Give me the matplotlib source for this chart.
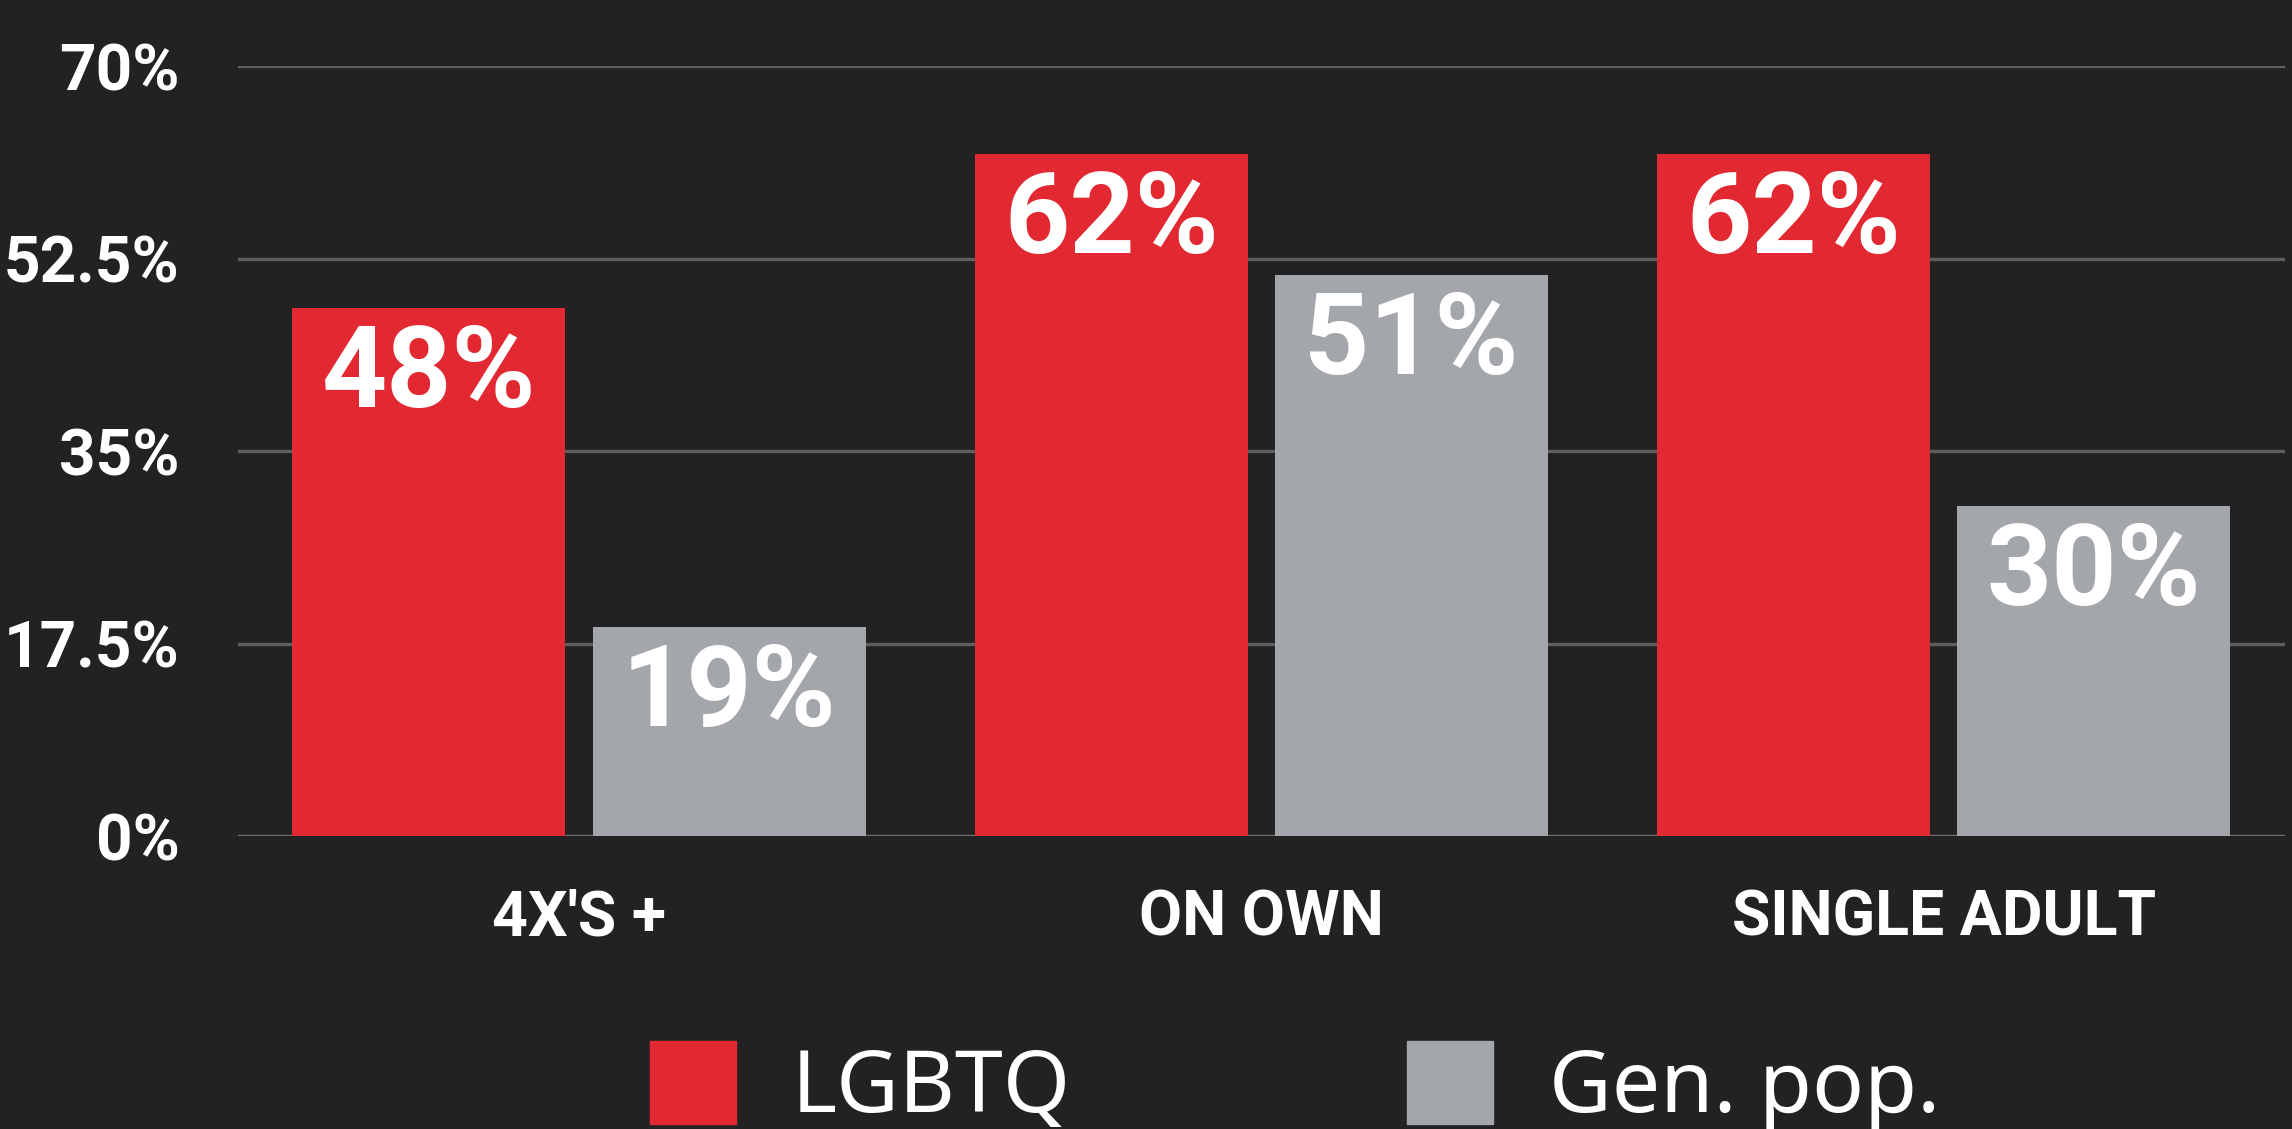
import numpy as np
import matplotlib.pyplot as plt
from matplotlib.patches import Patch

# data
categories = ["4X'S +", "ON OWN", "SINGLE ADULT"]
lgbtq = [48, 62, 62]
gen_pop = [19, 51, 30]
series_names = ["LGBTQ", "Gen. pop."]
y_ticks = [0, 17.5, 35, 52.5, 70]
y_tick_labels = ["0%", "17.5%", "35%", "52.5%", "70%"]

BG = "#222222"
RED = "#E22932"
GRAY = "#A3A6AA"
COND = ["Roboto", "DejaVu Sans"]  # no condensed face available, Roboto is the narrowest

fig = plt.figure(figsize=(22.92, 11.29), dpi=100, facecolor=BG)
ax = fig.add_axes([0.1038, 0.2595, 0.8931, 0.682])
ax.set_facecolor(BG)

x = np.arange(len(categories))
w = 0.4
off = 0.22

# gridlines first, bars on top
for t in y_ticks:
    ax.axhline(t, color="#5e5e5e" if t else "#707070", lw=2.4, zorder=1)

b1 = ax.bar(x - off, lgbtq, w, color=RED, zorder=2)
b2 = ax.bar(x + off, gen_pop, w, color=GRAY, zorder=2)

for bars, vals in [(b1, lgbtq), (b2, gen_pop)]:
    for rect, v in zip(bars, vals):
        ax.annotate(f"{v}%", (rect.get_x() + rect.get_width() / 2, v),
                    xytext=(0, -10), textcoords="offset points",
                    ha="center", va="top", color="white", fontsize=82,
                    fontweight="bold", family=COND, zorder=3)

ax.set_xlim(-0.5, 2.5)
ax.set_ylim(0, 70)
ax.set_yticks(y_ticks)
ax.set_yticklabels(y_tick_labels, family=COND, fontweight="bold",
                   fontsize=46, color="white")
ax.set_xticks(x)
ax.set_xticklabels(categories, family=COND, fontweight="bold",
                   fontsize=45, color="white")
ax.tick_params(axis="y", length=0, pad=42)
ax.tick_params(axis="x", length=0, pad=38)
for s in ax.spines.values():
    s.set_visible(False)

handles = [Patch(color=RED), Patch(color=GRAY)]
fig.legend(handles, series_names, loc="center", bbox_to_anchor=(0.565, 0.037),
           ncol=2, frameon=False, labelcolor="white",
           prop={"family": ["Noto Sans", "DejaVu Sans"], "size": 62},
           handlelength=1.0, handleheight=1.1, handletextpad=0.65,
           columnspacing=3.9)

fig.savefig("out.png", dpi=100, facecolor=BG)
